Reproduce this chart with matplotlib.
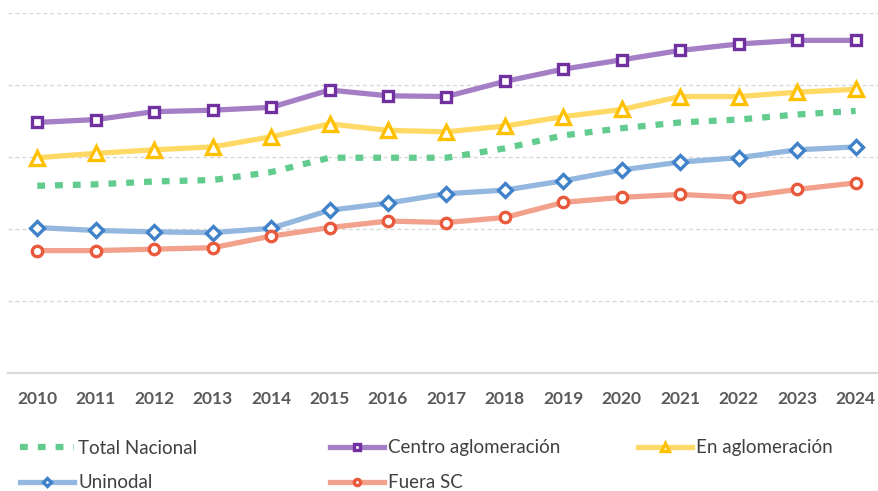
import matplotlib
matplotlib.use("Agg")
import matplotlib.pyplot as plt

years = [str(y) for y in range(2010, 2025)]

total_nacional = [26.0, 26.2, 26.6, 26.8, 27.9, 29.9, 29.9, 29.9, 31.2, 33.0, 34.0, 34.8, 35.2, 35.9, 36.4]
centro_aglom = [34.8, 35.2, 36.3, 36.5, 36.9, 39.3, 38.5, 38.4, 40.5, 42.2, 43.5, 44.8, 45.7, 46.2, 46.2]
en_aglom = [29.9, 30.5, 31.0, 31.4, 32.8, 34.6, 33.7, 33.5, 34.3, 35.6, 36.6, 38.4, 38.4, 39.0, 39.4]
uninodal = [20.2, 19.8, 19.6, 19.5, 20.1, 22.6, 23.6, 24.9, 25.4, 26.7, 28.2, 29.3, 29.9, 31.0, 31.4]
fuera_sc = [17.0, 17.0, 17.2, 17.4, 19.0, 20.2, 21.1, 20.9, 21.6, 23.7, 24.4, 24.8, 24.4, 25.5, 26.4]

plt.rcParams["font.family"] = ["Lato", "DejaVu Sans"]

fig = plt.figure(figsize=(8.79, 4.91), dpi=100)
ax = fig.add_axes([8 / 879, 1 - 373 / 491, 1 - 8 / 879, (373 - 13) / 491])

x = list(range(len(years)))

# series: (values, label, line colour, marker, marker edge, marker size)
series = [
    (centro_aglom, "Centro aglomeración", "#a57fc6", "s", "#7030a0", 7.5),
    (en_aglom, "En aglomeración", "#ffd966", "^", "#ffc000", 10.5),
    (uninodal, "Uninodal", "#93b7de", "D", "#3f82c9", 7.5),
    (fuera_sc, "Fuera SC", "#f2a18c", "o", "#e85a3b", 7.5),
]

handles = {}
h, = ax.plot(x, total_nacional, color="#62cc8e", lw=4.5, ls=(0, (1.25, 1.6)),
             solid_capstyle="butt", dash_capstyle="butt", label="Total Nacional", zorder=3)
handles["Total Nacional"] = h
for vals, lab, col, mk, mec, ms in series:
    h, = ax.plot(x, vals, color=col, lw=3.8, marker=mk, ms=ms, mfc="white",
                 mec=mec, mew=2.4, label=lab, zorder=4)
    handles[lab] = h

ax.set_xlim(-0.5, 14.4)
ax.set_ylim(0, 50)
ax.set_yticks([10, 20, 30, 40, 50])
ax.set_yticklabels([])
ax.yaxis.grid(True, color="#d9d9d9", lw=1, ls=(0, (3, 2)))
ax.set_axisbelow(True)
ax.tick_params(axis="y", length=0)
ax.set_xticks(x)
ax.set_xticklabels(years, fontsize=12.5, fontweight="bold", color="#595959")
ax.tick_params(axis="x", length=0, pad=13)
for s in ["top", "right", "left"]:
    ax.spines[s].set_visible(False)
ax.spines["bottom"].set_color("#d9d9d9")
ax.spines["bottom"].set_linewidth(1.6)

# legend entries placed one by one (pixel positions of the handle start)
legend_pos = [
    ("Total Nacional", 20, 448),
    ("Centro aglomeración", 330, 448),
    ("En aglomeración", 638, 448),
    ("Uninodal", 20, 483),
    ("Fuera SC", 330, 483),
]
for lab, px, py in legend_pos:
    leg = fig.legend(handles=[handles[lab]], loc="center left",
                     bbox_to_anchor=(px / 879, 1 - py / 491), frameon=False,
                     fontsize=13.5, handlelength=2.9, handletextpad=0.2,
                     borderpad=0, borderaxespad=0, markerscale=0.6)
    for t in leg.get_texts():
        t.set_color("#404040")

fig.savefig("out.png", dpi=100)
